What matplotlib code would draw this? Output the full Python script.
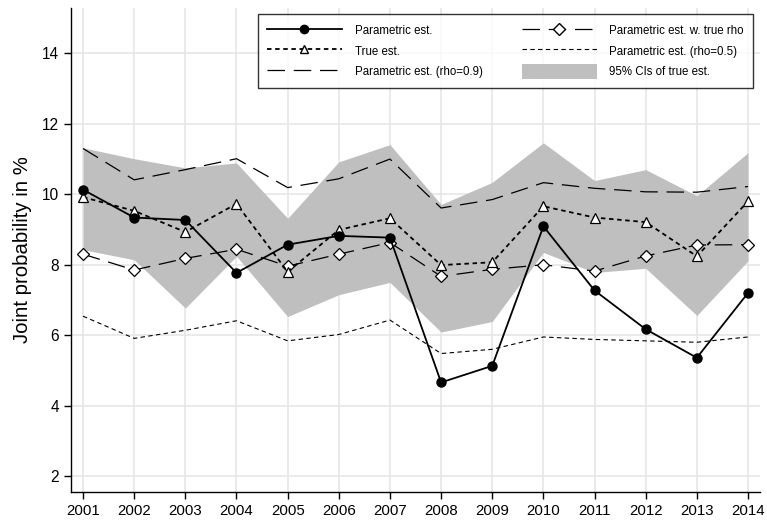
import matplotlib
matplotlib.use("Agg")
import matplotlib.pyplot as plt
from matplotlib.patches import Patch
from matplotlib.lines import Line2D

years = list(range(2001, 2015))
param_est = [10.13, 9.34, 9.27, 7.77, 8.57, 8.82, 8.77, 4.66, 5.13, 9.09, 7.27, 6.17, 5.36, 7.20]
true_est = [9.92, 9.53, 8.93, 9.73, 7.80, 8.99, 9.32, 7.99, 8.07, 9.66, 9.34, 9.21, 8.24, 9.80]
param_true_rho = [8.30, 7.85, 8.18, 8.44, 7.96, 8.30, 8.63, 7.67, 7.87, 8.00, 7.82, 8.25, 8.56, 8.57]
param_rho09 = [11.30, 10.41, 10.70, 11.01, 10.19, 10.44, 11.00, 9.61, 9.85, 10.33, 10.17, 10.07, 10.06, 10.22]
param_rho05 = [6.54, 5.91, 6.14, 6.41, 5.84, 6.02, 6.43, 5.48, 5.60, 5.95, 5.88, 5.84, 5.80, 5.95]
ci_upper = [11.32, 11.01, 10.75, 10.89, 9.32, 10.92, 11.41, 9.71, 10.34, 11.46, 10.39, 10.70, 9.96, 11.18]
ci_lower = [8.43, 8.14, 6.77, 8.24, 6.53, 7.15, 7.50, 6.09, 6.39, 8.35, 7.78, 7.90, 6.56, 8.11]
y_ticks = [2, 4, 6, 8, 10, 12, 14]

plt.rcParams['font.family'] = ['Liberation Sans', 'DejaVu Sans']

fig = plt.figure(figsize=(7.67, 5.22), dpi=100)
ax = fig.add_axes([0.0926, 0.0575, 0.8983, 0.928])

ax.fill_between(years, ci_lower, ci_upper, color='#bfbfbf', linewidth=0, zorder=1)
ax.plot(years, param_rho05, color='black', lw=0.8, ls=(0, (4, 3)), zorder=2)
ax.plot(years, param_rho09, color='black', lw=0.9, ls=(0, (14, 7)), zorder=2)
ax.plot(years, param_true_rho, color='black', lw=0.9, ls=(0, (14, 7)), marker='D',
        markersize=6.5, markerfacecolor='white', markeredgecolor='black', markeredgewidth=0.9, zorder=3)
ax.plot(years, true_est, color='black', lw=1.3, ls=(0, (2.5, 2)), marker='^',
        markersize=7, markerfacecolor='white', markeredgecolor='black', markeredgewidth=0.9, zorder=4)
ax.plot(years, param_est, color='black', lw=1.3, ls='-', marker='o',
        markersize=6.5, markerfacecolor='black', markeredgecolor='black', zorder=5)

ax.set_xlim(2000.765, 2014.235)
ax.set_ylim(1.55, 15.3)
ax.set_xticks(years)
ax.set_xticklabels([str(y) for y in years], fontsize=10.8)
ax.set_yticks(y_ticks)
ax.set_yticklabels([str(v) for v in y_ticks], fontsize=11.2)
ax.set_ylabel('Joint probability in %', fontsize=14.7, labelpad=7)
ax.grid(True, color='#e6e6e6', lw=1.2, zorder=0)
ax.set_axisbelow(True)
for s in ['top', 'right']:
    ax.spines[s].set_visible(False)
for s in ['left', 'bottom']:
    ax.spines[s].set_linewidth(1.0)
ax.tick_params(direction='out', length=5, width=1)

handles = [
    Line2D([], [], color='black', lw=1.3, marker='o', markersize=6, markerfacecolor='black'),
    Line2D([], [], color='black', lw=1.3, ls=(0, (2.5, 2)), marker='^', markersize=6,
           markerfacecolor='white', markeredgecolor='black'),
    Line2D([], [], color='black', lw=0.9, ls=(0, (14, 7))),
    Line2D([], [], color='black', lw=0.9, ls=(0, (14, 7)), marker='D', markersize=6,
           markerfacecolor='white', markeredgecolor='black'),
    Line2D([], [], color='black', lw=0.8, ls=(0, (4, 3))),
    Patch(facecolor='#bfbfbf', edgecolor='none'),
]
labels = ['Parametric est.', 'True est.', 'Parametric est. (rho=0.9)',
          'Parametric est. w. true rho', 'Parametric est. (rho=0.5)', '95% CIs of true est.']
leg = ax.legend(handles, labels, ncol=2, loc='upper right', bbox_to_anchor=(0.9898, 0.987),
                borderaxespad=0, fontsize=8.3, frameon=True, fancybox=False, edgecolor='black',
                handlelength=6.5, handleheight=1.6, columnspacing=3.4, labelspacing=0.5,
                borderpad=0.8, handletextpad=1.1)
leg.get_frame().set_linewidth(1.0)

fig.savefig('out.png', dpi=100)
